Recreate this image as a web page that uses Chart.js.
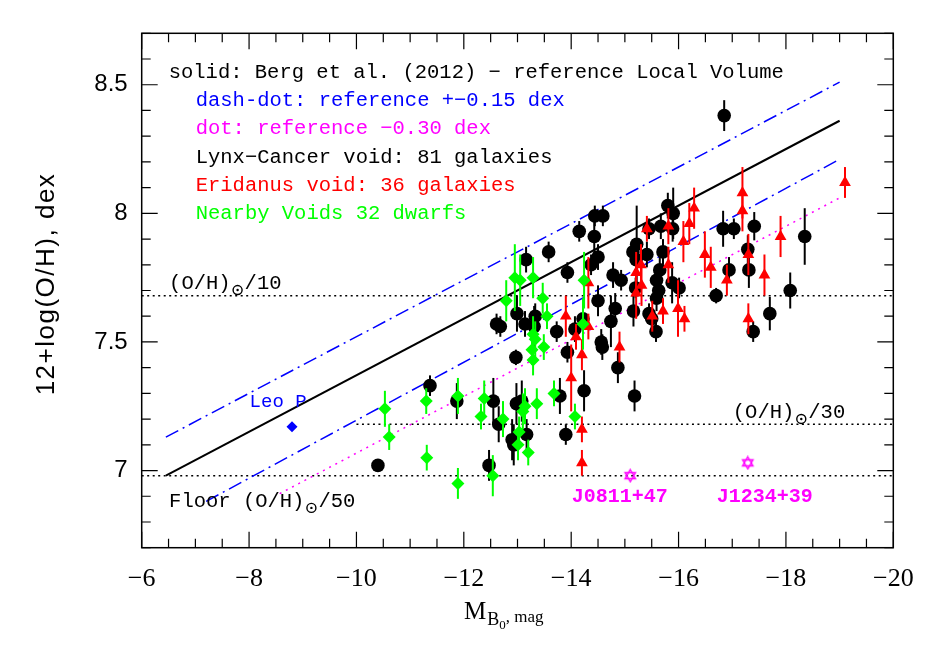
<!DOCTYPE html>
<html>
<head>
<meta charset="utf-8">
<script src="https://cdn.jsdelivr.net/npm/chart.js@4.4.1/dist/chart.umd.min.js"></script>
<style>
  html, body { margin: 0; padding: 0; background: #fff; }
  #wrap { width: 943px; height: 654px; }
</style>
</head>
<body>
<div id="wrap"><canvas id="c" width="943" height="654"></canvas></div>
<script>
// Lynx-Cancer void (black circles): M_B, 12+log(O/H), error
var lynxX = [-14.44, -14.59, -14.15, -14.43, -14.50, -14.37, -13.58, -13.16, -13.93, -14.78,
             -14.93, -15.22, -15.15, -15.21, -15.41, -15.20, -14.50, -14.82, -15.16, -14.74,
             -12.61, -12.68, -12.99, -13.14, -13.33, -13.31, -13.73, -14.07, -14.22, -13.93,
             -14.56, -14.58, -14.87, -12.97, -11.37, -11.87, -12.55, -12.98, -13.08, -13.79,
             -14.24, -15.18, -12.65, -12.90, -12.93, -13.17, -13.90, -10.40, -12.47, -16.85,
             -15.45, -15.67, -15.80, -15.90, -15.89, -15.71, -15.65, -15.59, -15.63, -15.59,
             -15.45, -15.50, -15.58, -15.88, -16.01, -16.70, -16.83, -17.03, -17.41, -17.29,
             -16.94, -17.31, -18.35, -18.08, -17.70, -17.39];
var lynxY = [7.99, 7.99, 7.93, 7.91, 7.83, 7.80, 7.85, 7.82, 7.77, 7.76,
             7.74, 7.88, 7.85, 7.82, 7.84, 7.71, 7.66, 7.63, 7.62, 7.58,
             7.57, 7.56, 7.61, 7.57, 7.60, 7.56, 7.54, 7.55, 7.59, 7.46,
             7.50, 7.48, 7.40, 7.44, 7.33, 7.27, 7.27, 7.26, 7.27, 7.29,
             7.31, 7.29, 7.18, 7.12, 7.10, 7.14, 7.14, 7.02, 7.02, 8.38,
             7.94, 7.95, 8.03, 8.00, 7.94, 7.85, 7.78, 7.74, 7.70, 7.67,
             7.61, 7.59, 7.54, 7.73, 7.71, 7.68, 7.94, 7.94, 7.95, 7.86,
             7.78, 7.78, 7.91, 7.70, 7.61, 7.54];
var lynxErr = [0.04, 0.04, 0.04, 0.08, 0.05, 0.04, 0.04, 0.05, 0.04, 0.05,
               0.04, 0.15, 0.05, 0.05, 0.05, 0.04, 0.06, 0.06, 0.06, 0.10,
               0.04, 0.04, 0.07, 0.05, 0.05, 0.08, 0.04, 0.05, 0.07, 0.04,
               0.05, 0.05, 0.06, 0.03, 0.04, 0.07, 0.09, 0.08, 0.08, 0.07,
               0.08, 0.06, 0.07, 0.08, 0.08, 0.06, 0.04, 0.02, 0.06, 0.06,
               0.04, 0.05, 0.05, 0.10, 0.05, 0.05, 0.05, 0.05, 0.05, 0.05,
               0.04, 0.04, 0.04, 0.08, 0.04, 0.03, 0.07, 0.04, 0.055, 0.055,
               0.05, 0.07, 0.11, 0.07, 0.065, 0.04];

// Eridanus void (red triangles)
var eriX = [-19.10, -17.19, -17.19, -17.90, -16.29, -16.20, -15.81, -15.41, -16.09, -16.49,
            -16.60, -17.30, -16.90, -17.60, -17.30, -15.81, -15.30, -15.21, -15.31, -15.21,
            -15.99, -16.11, -15.71, -15.51, -14.32, -13.90, -14.32, -14.09, -14.20, -14.90,
            -14.00, -14.20, -14.20];
var eriY = [8.12, 8.08, 8.01, 7.91, 8.02, 7.96, 7.95, 7.94, 7.89, 7.84,
            7.79, 7.84, 7.74, 7.76, 7.59, 7.80, 7.80, 7.77, 7.72, 7.69,
            7.63, 7.59, 7.62, 7.60, 7.73, 7.60, 7.56, 7.52, 7.45, 7.48,
            7.36, 7.16, 7.03];
var eriErr = [0.06, 0.10, 0.08, 0.08, 0.08, 0.08, 0.07, 0.05, 0.08, 0.09,
              0.08, 0.08, 0.06, 0.08, 0.06, 0.07, 0.08, 0.08, 0.08, 0.10,
              0.11, 0.05, 0.05, 0.06, 0.10, 0.08, 0.05, 0.05, 0.06, 0.06,
              0.13, 0.05, 0.05];

// Nearby Voids dwarfs (green diamonds)
var nvX = [-10.53, -10.61, -11.30, -11.31, -11.89, -11.89, -12.38, -12.32, -12.73, -12.54,
           -13.14, -13.10, -13.03, -13.01, -13.20, -13.36, -13.68, -14.07, -12.95, -13.05,
           -13.29, -12.79, -13.47, -13.55, -14.24, -14.22, -13.29, -13.33, -13.27, -13.49,
           -13.29];
var nvY = [7.24, 7.13, 7.27, 7.05, 7.29, 6.95, 7.28, 7.21, 7.20, 6.98,
           7.25, 7.23, 7.15, 7.10, 7.07, 7.26, 7.30, 7.21, 7.75, 7.74,
           7.75, 7.66, 7.67, 7.60, 7.74, 7.57, 7.53, 7.51, 7.47, 7.48,
           7.43];
var nvErr = [0.07, 0.05, 0.05, 0.05, 0.07, 0.06, 0.07, 0.05, 0.07, 0.08,
             0.07, 0.07, 0.06, 0.06, 0.05, 0.06, 0.05, 0.05, 0.13, 0.10,
             0.08, 0.08, 0.06, 0.05, 0.11, 0.10, 0.07, 0.07, 0.06, 0.05,
             0.06];

// individual objects
var leoX = [-8.80], leoY = [7.17];
var xmpX = [-15.10, -17.29], xmpY = [6.98, 7.03];
var xmpNames = ['J0811+47', 'J1234+39'];

// reference relation (Berg et al. 2012) and its offsets: end points
var bergX = [-6.45, -19.0], bergY = [6.98, 8.36];
var upX = [-6.45, -19.0], upY = [7.13, 8.51];
var loX = [-7.20, -19.0], loY = [6.88, 8.21];
var dotX = [-8.57, -19.0], dotY = [6.91, 8.06];

// solar fractions (horizontal lines)
var h10X = [-6, -20], h10Y = [7.68, 7.68];
var h30X = [-10, -20], h30Y = [7.18, 7.18];
var h50X = [-6, -20], h50Y = [6.98, 6.98];

var xTickVals = [-6, -8, -10, -12, -14, -16, -18, -20];
var yTickVals = [7, 7.5, 8, 8.5];

var legendLines = [
  ['solid: Berg et al. (2012) \u2212 reference Local Volume', '#000000', 0],
  ['dash-dot: reference +\u22120.15 dex', '#0000ff', 1],
  ['dot: reference \u22120.30 dex', '#ff00ff', 1],
  ['Lynx\u2212Cancer void: 81 galaxies', '#000000', 1],
  ['Eridanus void: 36 galaxies', '#ff0000', 1],
  ['Nearby Voids 32 dwarfs', '#00ff00', 1]
];

function pts(xs, ys) {
  return xs.map(function(x, i) { return { x: x, y: ys[i] }; });
}

function starImg() {
  var c = document.createElement('canvas'); c.width = 15; c.height = 15;
  var g = c.getContext('2d');
  g.strokeStyle = '#ff00ff'; g.lineWidth = 1.4;
  [-Math.PI / 2, Math.PI / 2].forEach(function(a0) {
    g.beginPath();
    for (var k = 0; k < 3; k++) {
      var a = a0 + k * 2 * Math.PI / 3;
      var px = 7.5 + 6 * Math.cos(a), py = 7.5 + 6 * Math.sin(a);
      if (k) g.lineTo(px, py); else g.moveTo(px, py);
    }
    g.closePath(); g.stroke();
  });
  return c;
}

var MONO = "'Courier New', 'Liberation Mono', monospace";

// error bars, drawn just before each dataset's markers
var errPlugin = {
  id: 'errbars',
  beforeDatasetDraw: function(chart, args) {
    var ds = chart.data.datasets[args.index];
    if (!ds.err) return;
    var xs = chart.scales.x, ys = chart.scales.y, ctx = chart.ctx;
    ctx.save();
    ctx.strokeStyle = ds.errColor; ctx.lineWidth = 2;
    ds.data.forEach(function(p, i) {
      var px = xs.getPixelForValue(p.x);
      ctx.beginPath();
      ctx.moveTo(px, ys.getPixelForValue(p.y - ds.err[i]));
      ctx.lineTo(px, ys.getPixelForValue(p.y + ds.err[i]));
      ctx.stroke();
    });
    ctx.restore();
  }
};

function drawOH(ctx, x, y, before, tail) {
  ctx.fillText(before + '(O/H)', x, y);
  var w = ctx.measureText(before + '(O/H)').width;
  ctx.beginPath(); ctx.lineWidth = 1.4;
  ctx.arc(x + w + 7, y + 6, 4.5, 0, 2 * Math.PI); ctx.stroke();
  ctx.beginPath(); ctx.arc(x + w + 7, y + 6, 1.2, 0, 2 * Math.PI); ctx.fill();
  ctx.fillText(tail, x + w + 14, y);
}

// frame, inward ticks, texts and axis titles
var framePlugin = {
  id: 'frame',
  afterDatasetsDraw: function(chart) {
    var ctx = chart.ctx, a = chart.chartArea, xs = chart.scales.x, ys = chart.scales.y;
    ctx.save();
    ctx.strokeStyle = '#000'; ctx.lineWidth = 1.5;
    ctx.strokeRect(a.left, a.top, a.right - a.left, a.bottom - a.top);
    ctx.lineWidth = 1.2;
    ctx.beginPath();
    for (var v = -6; v >= -20; v -= 0.5) {
      var px = xs.getPixelForValue(v);
      var len = (Math.abs(v % 2) < 1e-6) ? 16 : 9;
      ctx.moveTo(px, a.bottom); ctx.lineTo(px, a.bottom - len);
      ctx.moveTo(px, a.top); ctx.lineTo(px, a.top + len);
    }
    for (var k = 67; k <= 87; k++) {
      var py = ys.getPixelForValue(k / 10);
      var ylen = (k % 5 === 0) ? 16 : 9;
      ctx.moveTo(a.left, py); ctx.lineTo(a.left + ylen, py);
      ctx.moveTo(a.right, py); ctx.lineTo(a.right - ylen, py);
    }
    ctx.stroke();

    // legend block
    ctx.font = '20.5px ' + MONO;
    ctx.textBaseline = 'middle'; ctx.textAlign = 'left';
    legendLines.forEach(function(l, i) {
      ctx.fillStyle = l[1];
      ctx.fillText(l[0], a.left + 27 + l[2] * 27, a.top + 39.5 + i * 28.1);
    });

    // solar fraction labels
    ctx.fillStyle = '#000'; ctx.strokeStyle = '#000';
    drawOH(ctx, xs.getPixelForValue(-6.51), ys.getPixelForValue(7.725), '', '/10');
    drawOH(ctx, xs.getPixelForValue(-17.01), ys.getPixelForValue(7.224), '', '/30');
    drawOH(ctx, xs.getPixelForValue(-6.51), ys.getPixelForValue(6.878), 'Floor ', '/50');

    // object names
    ctx.font = '19px ' + MONO; ctx.fillStyle = '#0000ff';
    ctx.fillText('Leo P', xs.getPixelForValue(-8.01), ys.getPixelForValue(7.266));
    ctx.font = 'bold 20px ' + MONO; ctx.fillStyle = '#ff00ff';
    ctx.fillText(xmpNames[0], xs.getPixelForValue(-14.01), ys.getPixelForValue(6.897));
    ctx.fillText(xmpNames[1], xs.getPixelForValue(-16.71), ys.getPixelForValue(6.897));

    // x title: M_{B0}, mag
    ctx.fillStyle = '#000';
    ctx.textBaseline = 'alphabetic';
    var tx = 464, ty = 619;
    ctx.font = '25px "Liberation Serif", serif';
    ctx.fillText('M', tx, ty); tx += ctx.measureText('M').width + 1;
    ctx.font = '18px "Liberation Serif", serif';
    ctx.fillText('B', tx, ty + 6); tx += ctx.measureText('B').width;
    ctx.font = '13px "Liberation Serif", serif';
    ctx.fillText('0', tx, ty + 10); tx += ctx.measureText('0').width;
    ctx.font = '17px "Liberation Serif", serif';
    ctx.fillText(', mag', tx, ty + 3);

    // y title
    ctx.save();
    ctx.translate(54, 284); ctx.rotate(-Math.PI / 2);
    ctx.font = '26px "Liberation Sans", sans-serif';
    if ('letterSpacing' in ctx) ctx.letterSpacing = '1.5px';
    ctx.textAlign = 'center';
    ctx.fillText('12+log(O/H), dex', 0, 0);
    ctx.restore();
    ctx.restore();
  }
};

var lineDs = function(xs, ys, color, width, dash) {
  return { data: pts(xs, ys), showLine: true, pointRadius: 0, borderColor: color,
           borderWidth: width, borderDash: dash, fill: false, tension: 0 };
};

new Chart(document.getElementById('c'), {
  type: 'scatter',
  data: {
    datasets: [
      { data: pts(nvX, nvY), err: nvErr, errColor: '#00ff00', pointStyle: 'rectRot', pointRadius: 6.5,
        backgroundColor: '#00ff00', borderColor: '#00ff00', borderWidth: 0 },
      { data: pts(eriX, eriY), err: eriErr, errColor: '#ff0000', pointStyle: 'triangle', pointRadius: 6.8,
        backgroundColor: '#ff0000', borderColor: '#ff0000', borderWidth: 0 },
      { data: pts(lynxX, lynxY), err: lynxErr, errColor: '#000000', pointStyle: 'circle', pointRadius: 6.8,
        backgroundColor: '#000000', borderColor: '#000000', borderWidth: 0 },
      { data: pts(leoX, leoY), pointStyle: 'rectRot', pointRadius: 5.5,
        backgroundColor: '#0000ff', borderColor: '#0000ff', borderWidth: 0 },
      { data: pts(xmpX, xmpY), pointStyle: starImg(), pointRadius: 7 },
      lineDs(bergX, bergY, '#000000', 2, []),
      lineDs(upX, upY, '#0000ff', 1.5, [14, 5, 2, 5]),
      lineDs(loX, loY, '#0000ff', 1.5, [14, 5, 2, 5]),
      lineDs(dotX, dotY, '#ff00ff', 1.5, [2, 5]),
      lineDs(h10X, h10Y, '#000000', 1.5, [2, 3.5]),
      lineDs(h30X, h30Y, '#000000', 1.5, [2, 3.5]),
      lineDs(h50X, h50Y, '#000000', 1.5, [2, 3.5])
    ]
  },
  options: {
    responsive: false,
    devicePixelRatio: 1,
    animation: false,
    layout: { padding: { left: 0, top: 33.3, right: 49.7, bottom: 0 } },
    plugins: { legend: { display: false }, tooltip: { enabled: false } },
    scales: {
      x: {
        type: 'linear', min: -20, max: -6, reverse: true,
        grid: { display: false, drawTicks: false }, border: { display: false },
        afterBuildTicks: function(s) { s.ticks = xTickVals.map(function(v) { return { value: v }; }); },
        afterFit: function(s) { s.height = 106.3; },
        ticks: { color: '#000', padding: 16, maxRotation: 0, autoSkip: false,
                 font: { family: 'Liberation Serif', size: 26 },
                 callback: function(v) { return (v < 0 ? '\u2212' : '') + Math.abs(v); } }
      },
      y: {
        type: 'linear', min: 6.7, max: 8.7,
        grid: { display: false, drawTicks: false }, border: { display: false },
        afterBuildTicks: function(s) { s.ticks = yTickVals.map(function(v) { return { value: v }; }); },
        afterFit: function(s) { s.width = 141.7; },
        ticks: { color: '#000', padding: 14, autoSkip: false,
                 font: { family: 'Liberation Sans', size: 24 },
                 callback: function(v) { return String(v); } }
      }
    }
  },
  plugins: [errPlugin, framePlugin]
});
</script>
</body>
</html>
